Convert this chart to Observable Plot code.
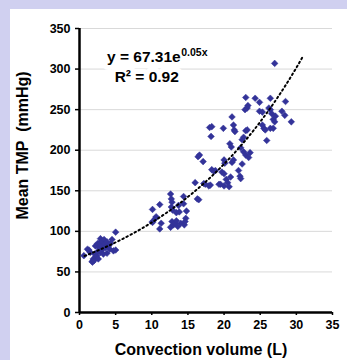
<!DOCTYPE html>
<html>
<head>
<meta charset="utf-8">
<script src="https://cdn.jsdelivr.net/npm/d3@7"></script>
<script src="https://cdn.jsdelivr.net/npm/@observablehq/plot@0.6"></script>
<style>
  html, body { margin: 0; padding: 0; background: #d0d0f0; width: 347px; height: 360px; overflow: hidden; }
  #panel { position: absolute; left: 10px; top: 9px; width: 337px; height: 351px; background: #ffffff; }
  svg { display: block; }
</style>
</head>
<body>
<div id="panel"></div>
<script>
// Convection volume (L)
const convection = [
  0.6,1.1,1.3,1.75,1.8,1.9,2.0,2.1,2.2,2.3,2.4,2.5,2.5,2.7,2.8,2.9,2.9,3.0,3.1,3.2,3.3,3.4,3.5,3.6,3.8,3.8,4.0,4.2,4.3,4.5,4.7,5.0,5.0,1.5,2.6,
  10.1,10.1,10.1,10.5,10.6,11.1,11.1,11.3,12.6,12.7,12.7,12.8,12.9,12.6,12.8,13.0,13.2,13.4,13.4,13.7,13.8,13.6,14.0,14.4,14.4,14.5,14.7,14.8,14.6,16.0,16.3,16.5,
  17.1,16.4,16.6,17.2,17.4,17.9,18.1,18.0,18.3,18.2,18.3,18.6,18.8,19.3,19.5,19.7,19.9,20.0,20.0,20.1,20.0,20.3,20.5,20.7,20.9,20.8,21.0,21.1,21.1,21.3,21.3,21.4,21.5,
  22.0,22.2,22.3,22.3,22.5,22.5,22.7,22.7,23.0,23.2,23.0,23.4,23.6,23.0,23.2,22.9,23.3,24.3,24.9,24.9,25.3,25.3,25.5,25.7,25.9,26.2,26.4,26.4,26.4,26.6,26.8,26.8,27.0,27.0,27.1,28.0,28.4,28.5,29.3
];
// Mean TMP (mmHg)
const meanTMP = [
  70,78,77,63,62,66,64,72,82,68,70,85,75,80,86,91,74,83,88,78,72,90,84,80,73,87,82,78,85,90,76,77,99,74,66,
  127,111,112,116,118,133,103,110,146,140,130,136,126,105,112,108,110,113,123,132,124,106,110,143,134,108,116,125,112,160,140,139,
  186,192,194,159,158,156,157,228,229,217,176,174,175,158,158,173,227,171,188,184,156,164,160,155,167,208,204,241,185,188,231,225,223,
  175,168,203,165,213,183,216,198,224,225,194,191,197,265,252,250,255,264,259,248,247,231,227,225,212,252,264,250,227,245,227,238,307,235,242,248,243,260,235
];
const xTicks = [0, 5, 10, 15, 20, 25, 30, 35];
const yTicks = [0, 50, 100, 150, 200, 250, 300, 350];
// Exponential trend line stated on the chart: y = 67.31 e^(0.05 x)
const trendA = 67.31, trendB = 0.05;
const trendRange = [0.7, 31];

const points = convection.map((x, i) => ({x, y: meanTMP[i]}));
const trend = d3.range(trendRange[0], trendRange[1] + 0.001, 0.1).map(x => ({x, y: trendA * Math.exp(trendB * x)}));

const font = "'Liberation Sans', Arial, sans-serif";
const blue = "#333399";

const eqMain = {x: 14.0, y: 315, textAnchor: "end", fontSize: 15.5, fontWeight: "bold"};
const eqSup = {x: 14.0, y: 320, dx: 0.5, textAnchor: "start", fontSize: 10.5, fontWeight: "bold"};
const eqR2 = {x: 9.3, y: 290, fontSize: 15.5, fontWeight: "bold"};

const chart = Plot.plot({
  width: 337,
  height: 351,
  marginLeft: 69,
  marginRight: 15,
  marginTop: 19,
  marginBottom: 48,
  style: {background: "white", fontFamily: font, fontWeight: "bold", fontSize: "12px", color: "black", overflow: "visible"},
  x: {domain: [0, 35], label: null},
  y: {domain: [0, 350], label: null},
  marks: [
    Plot.gridY(yTicks.filter(d => d > 0), {stroke: "#d9d9d9", strokeOpacity: 1, strokeWidth: 1}),
    Plot.axisY(yTicks, {tickSize: 4, tickPadding: 5, label: null, fontWeight: "bold", fontSize: 12.5, stroke: "black", strokeWidth: 1.5}),
    Plot.axisX(xTicks, {tickSize: 3, tickPadding: 5, label: null, fontWeight: "bold", fontSize: 12.5, stroke: "black", strokeWidth: 1.5}),
    Plot.ruleX([0], {stroke: "black", strokeWidth: 2.5}),
    Plot.ruleY([0], {stroke: "black", strokeWidth: 2.5}),
    Plot.dot(points, {x: "x", y: "y", symbol: "diamond2", r: 3, fill: blue, stroke: blue, strokeWidth: 0.5}),
    Plot.line(trend, {x: "x", y: "y", stroke: "black", strokeWidth: 2, strokeDasharray: "1.6,3"}),
    // white halo behind the equation (covers the gridline like Excel's label box)
    Plot.text(["y = 67.31e"], {...eqMain, fill: "white", stroke: "white", strokeWidth: 10}),
    Plot.text(["0.05x"], {...eqSup, fill: "white", stroke: "white", strokeWidth: 8}),
    Plot.text(["R² = 0.92"], {...eqR2, fill: "white", stroke: "white", strokeWidth: 10}),
    Plot.text(["y = 67.31e"], {...eqMain, fill: "black"}),
    Plot.text(["0.05x"], {...eqSup, fill: "black"}),
    Plot.text(["R² = 0.92"], {...eqR2, fill: "black"}),
    Plot.text(["Convection volume (L)"], {frameAnchor: "bottom", lineAnchor: "middle", textAnchor: "middle", dx: -5, dy: 37, fontSize: 16, fontWeight: "bold", fill: "black"}),
    Plot.text(["Mean TMP  (mmHg)"], {frameAnchor: "left", lineAnchor: "middle", textAnchor: "middle", rotate: -90, dx: -57, dy: -25, fontSize: 16, fontWeight: "bold", fill: "black"})
  ]
});
document.getElementById("panel").appendChild(chart);
</script>
</body>
</html>
